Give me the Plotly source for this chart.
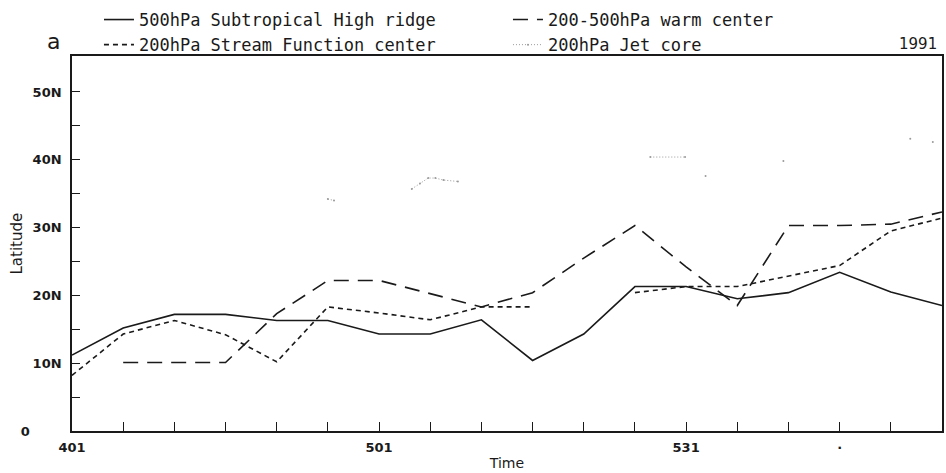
import plotly.graph_objects as go

# ---- data (days after 1 April 1991, pentad values) ----
days = [0, 5, 10, 15, 20, 25, 30, 35, 40, 45, 50, 55, 60, 65, 70, 75, 80, 85]
ridge_500 = [11.2, 15.2, 17.2, 17.2, 16.3, 16.3, 14.3, 14.3, 16.4, 10.4, 14.3, 21.3, 21.3, 19.5, 20.4, 23.4, 20.5, 18.5]
warm_center = [None, 10.1, 10.1, 10.1, 17.3, 22.2, 22.2, 20.2, 18.3, 20.4, 25.5, 30.3, 24.2, 18.5, 30.3, 30.3, 30.5, 32.3]
stream_center = [8.2, 14.3, 16.3, 14.2, 10.2, 18.3, 17.4, 16.4, 18.3, 18.3, None, 20.4, 21.3, 21.3, 22.9, 24.4, 29.5, 31.4]

# jet core (sparse, fragments)
jet_days = [25.0, 25.6, None, 33.2, 34.0, 34.8, 35.5, 36.3, 37.7, None, 56.5, 59.9, None, 61.9, None, 69.5, None, 81.9, None, 84.1]
jet_lat = [34.2, 34.0, None, 35.7, 36.5, 37.3, 37.3, 37.0, 36.8, None, 40.4, 40.4, None, 37.6, None, 39.8, None, 43.1, None, 42.6]

tick_days = [0, 5, 10, 15, 20, 25, 30, 35, 40, 45, 50, 55, 60, 65, 70, 75, 80]
tick_labels = ["401", "", "", "", "", "", "501", "", "", "", "", "", "531", "", "", "\u00b7", ""]
lat_ticks = [0, 10, 20, 30, 40, 50]
lat_labels = ["0" + "\u00a0" * 7, "10N", "20N", "30N", "40N", "50N"]

names = ["500hPa Subtropical High ridge", "200-500hPa warm center",
         "200hPa Stream Function center", "200hPa Jet core"]

fig = go.Figure()
fig.add_trace(go.Scatter(x=days, y=ridge_500, mode="lines", name=names[0],
                         line=dict(color="#1a1a1a", width=1.6)))
fig.add_trace(go.Scatter(x=days, y=warm_center, mode="lines", name=names[1],
                         line=dict(color="#1a1a1a", width=1.6, dash="15px,9px")))
fig.add_trace(go.Scatter(x=days, y=stream_center, mode="lines", name=names[2],
                         line=dict(color="#1a1a1a", width=1.6, dash="5px,4px")))
fig.add_trace(go.Scatter(x=jet_days, y=jet_lat, mode="lines+markers", name=names[3],
                         line=dict(color="#9a9a9a", width=1, dash="1px,2px"),
                         marker=dict(color="#9a9a9a", size=2)))

fig.update_layout(
    width=946, height=473,
    margin=dict(l=72, r=4, t=56, b=42, autoexpand=False),
    paper_bgcolor="white", plot_bgcolor="white",
    font=dict(family="DejaVu Sans", color="#1a1a1a"),
    legend=dict(orientation="h", x=0.031, xanchor="left", y=1.144, yanchor="top",
                entrywidth=364, entrywidthmode="pixels",
                font=dict(family="DejaVu Sans Mono", size=17, color="#1a1a1a"),
                bgcolor="rgba(0,0,0,0)", tracegroupgap=0),
    xaxis=dict(range=[0, 85], tickmode="array", tickvals=tick_days, ticktext=tick_labels,
               ticks="inside", ticklen=9, tickwidth=1.2, tickcolor="#1a1a1a",
               showline=True, linecolor="#1a1a1a", linewidth=1.6, mirror=True,
               showgrid=False, zeroline=False, ticklabelstandoff=4, automargin=False,
               tickfont=dict(family="DejaVu Sans", size=13, weight="bold"),
               title=dict(text="Time", font=dict(size=14), standoff=4)),
    yaxis=dict(range=[0, 55.3], tickmode="array", tickvals=lat_ticks, ticktext=lat_labels,
               ticks="inside", ticklen=8, tickwidth=1.2, tickcolor="#1a1a1a",
               minor=dict(tickvals=[5, 15, 25, 35, 45], ticks="inside", ticklen=8,
                          tickwidth=1.2, tickcolor="#1a1a1a"),
               showline=True, linecolor="#1a1a1a", linewidth=1.6, mirror=True,
               showgrid=False, zeroline=False, ticklabelstandoff=6, automargin=False,
               tickfont=dict(family="DejaVu Sans", size=13, weight="bold")),
    annotations=[
        dict(text="a", xref="paper", yref="paper", x=-0.031, y=1.0 + (56 - 42) / 375,
             xanchor="left", yanchor="middle", showarrow=False,
             font=dict(family="DejaVu Sans", size=22, color="#1a1a1a")),
        dict(text="1991", xref="paper", yref="paper", x=0.996, y=1.0 + (56 - 44) / 375,
             xanchor="right", yanchor="middle", showarrow=False,
             font=dict(family="DejaVu Sans", size=15, color="#1a1a1a")),
        dict(text="Latitude", xref="paper", yref="paper", x=(16 - 72) / 870, y=0.5,
             xanchor="center", yanchor="middle", textangle=-90, showarrow=False,
             font=dict(family="DejaVu Sans", size=15, color="#1a1a1a")),
    ],
)

fig.write_html("out.html", config={"displayModeBar": False},
               post_script="document.body.style.margin='0';")
